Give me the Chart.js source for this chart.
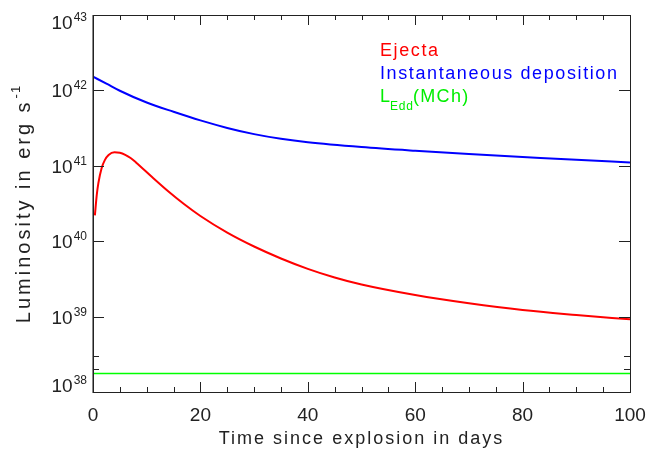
<!DOCTYPE html>
<html>
<head>
<meta charset="utf-8">
<script src="https://cdn.jsdelivr.net/npm/chart.js@4/dist/chart.umd.min.js"></script>
<style>
  body { margin: 0; background: #fff; }
  canvas { display: block; }
</style>
</head>
<body>
<canvas id="lumChart" width="662" height="450"></canvas>
<script>
// values (days, erg/s)
const ejectaDays = [0.35, 0.7, 1, 1.6, 2.2, 2.9, 4, 5, 6, 7, 8, 11, 14, 17, 20, 25, 30, 35, 40, 45, 50, 60, 70, 80, 90, 100];
const ejectaLum  = [2.2e40, 4.1e40, 5.9e40, 9.3e40, 1.19e41, 1.39e41, 1.51e41, 1.49e41, 1.40e41, 1.27e41, 1.11e41, 7.1e40, 4.6e40, 3.09e40, 2.16e40, 1.30e40, 8.5e39, 5.9e39, 4.3e39, 3.3e39, 2.66e39, 1.93e39, 1.50e39, 1.22e39, 1.05e39, 9.2e38];

const depDays = [0, 2.5, 5, 10, 15, 20, 25, 30, 35, 40, 50, 60, 70, 80, 90, 100];
const depLum  = [1.52e42, 1.23e42, 9.9e41, 6.9e41, 5.2e41, 4.0e41, 3.18e41, 2.63e41, 2.28e41, 2.05e41, 1.77e41, 1.58e41, 1.43e41, 1.31e41, 1.20e41, 1.11e41];

const eddDays = [0, 100];
const eddLum  = [1.76e38, 1.76e38];

const xTicks = [0, 20, 40, 60, 80, 100];
const xMinorStep = 5;
const yExps = [38, 39, 40, 41, 42, 43];
const yMinor = [2e38, 3e38];

const toPts = (xs, ys) => xs.map((x, i) => ({ x: x, y: ys[i] }));

const FONT = "Liberation Sans, Arial, sans-serif";
const INK = "#222";

function txt(ctx, s, x, y, size, color, align, spacing) {
    ctx.font = size + "px " + FONT;
    ctx.fillStyle = color;
    ctx.textAlign = align || "left";
    ctx.textBaseline = "alphabetic";
    ctx.letterSpacing = (spacing || 0) + "px";
    ctx.fillText(s, x, y);
    ctx.letterSpacing = "0px";
}

const axesPlugin = {
    id: "idlAxes",
    afterDraw(chart) {
        const ctx = chart.ctx;
        const a = chart.chartArea;
        const xs = chart.scales.x, ys = chart.scales.y;
        ctx.save();

        // frame
        ctx.strokeStyle = "#222";
        ctx.lineWidth = 1;
        ctx.strokeRect(Math.round(a.left) + 0.5, Math.round(a.top) + 0.5, Math.round(a.right - a.left), Math.round(a.bottom - a.top));
        ctx.strokeStyle = "rgba(60,60,60,0.6)";
        ctx.beginPath();
        ctx.moveTo(a.left - 0.5, a.top); ctx.lineTo(a.left - 0.5, a.bottom + 1);
        ctx.stroke();

        ctx.strokeStyle = "#222";
        // x ticks (inward, bottom + top)
        ctx.beginPath();
        for (let v = xs.min; v <= xs.max + 1e-9; v += xMinorStep) {
            const px = Math.round(xs.getPixelForValue(v)) + 0.5;
            const len = xTicks.includes(v) ? 10 : 5;
            ctx.moveTo(px, a.bottom); ctx.lineTo(px, a.bottom - len);
            ctx.moveTo(px, a.top); ctx.lineTo(px, a.top + len);
        }
        // y ticks (inward, left + right)
        yExps.forEach(e => {
            const py = Math.round(ys.getPixelForValue(Math.pow(10, e))) + 0.5;
            ctx.moveTo(a.left, py); ctx.lineTo(a.left + 11, py);
            ctx.moveTo(a.right, py); ctx.lineTo(a.right - 11, py);
        });
        yMinor.forEach(v => {
            const py = Math.round(ys.getPixelForValue(v)) + 0.5;
            ctx.moveTo(a.left, py); ctx.lineTo(a.left + 6, py);
            ctx.moveTo(a.right, py); ctx.lineTo(a.right - 6, py);
        });
        ctx.stroke();

        // x tick labels
        xTicks.forEach(v => {
            txt(ctx, String(v), xs.getPixelForValue(v), 421, 19, INK, "center");
        });

        // y tick labels: 10^n
        yExps.forEach(e => {
            const py = ys.getPixelForValue(Math.pow(10, e));
            ctx.font = "12px " + FONT;
            const ew = ctx.measureText(String(e)).width;
            let base = py + 7;          // baseline of "10"
            base = Math.max(base, 29);  // keep top label inside
            base = Math.min(base, 392); // keep bottom label inside
            const right = a.left - 6;
            txt(ctx, String(e), right, base - 8, 12, INK, "right");
            txt(ctx, "10", right - ew - 1, base, 19, INK, "right");
        });

        // x title
        txt(ctx, "Time since explosion in days", (a.left + a.right) / 2, 444, 18, INK, "center", 2);

        // y title (rotated)
        ctx.save();
        ctx.translate(30, (a.top + a.bottom) / 2);
        ctx.rotate(-Math.PI / 2);
        ctx.font = "20px " + FONT;
        ctx.letterSpacing = "3px";
        const w = ctx.measureText("Luminosity in erg s").width;
        ctx.font = "13px " + FONT;
        ctx.letterSpacing = "1px";
        const w2 = ctx.measureText("-1").width;
        const x0 = -(w + w2 + 2) / 2;
        txt(ctx, "Luminosity in erg s", x0, 0, 20, INK, "left", 3);
        txt(ctx, "-1", x0 + w + 1, -10, 13, INK, "left", 1);
        ctx.restore();

        // legend
        txt(ctx, "Ejecta", 380, 56, 18, "#ff0000", "left", 1.6);
        txt(ctx, "Instantaneous deposition", 380, 79, 18, "#0000ff", "left", 1.6);
        txt(ctx, "L", 380, 102, 18, "#00ee00", "left", 1);
        txt(ctx, "Edd", 390, 110, 12, "#00ee00", "left", 0.8);
        txt(ctx, "(MCh)", 413, 102, 18, "#00ee00", "left", 1.3);

        ctx.restore();
    }
};

new Chart(document.getElementById("lumChart"), {
    type: "line",
    data: {
        datasets: [
            { data: toPts(ejectaDays, ejectaLum), borderColor: "#ff0000", borderWidth: 2, pointRadius: 0, cubicInterpolationMode: "monotone" },
            { data: toPts(depDays, depLum), borderColor: "#0000ff", borderWidth: 2, pointRadius: 0, cubicInterpolationMode: "monotone" },
            { data: toPts(eddDays, eddLum), borderColor: "#00ff00", borderWidth: 1.5, pointRadius: 0 }
        ]
    },
    options: {
        responsive: false,
        animation: false,
        layout: { padding: { left: 93, right: 32, top: 15, bottom: 58 } },
        plugins: { legend: { display: false }, tooltip: { enabled: false } },
        scales: {
            x: { type: "linear", min: 0, max: 100, display: false },
            y: { type: "logarithmic", min: 1e38, max: 1e43, display: false }
        }
    },
    plugins: [axesPlugin]
});
</script>
</body>
</html>
